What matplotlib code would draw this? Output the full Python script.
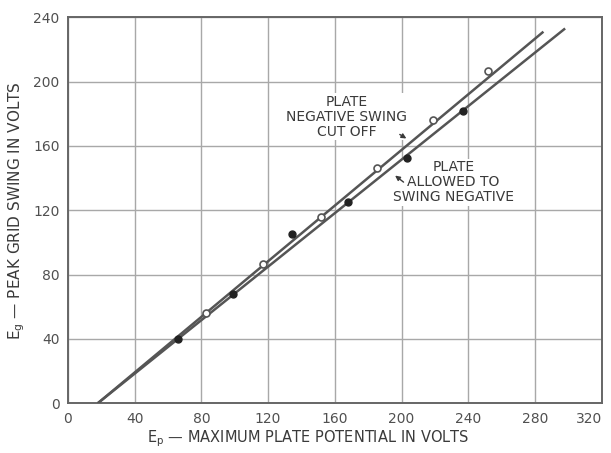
import matplotlib.pyplot as plt

# straight-line fits (end points)
cut_x = [18, 285]
cut_y = [0, 231]
neg_x = [18, 298]
neg_y = [0, 233]

# measured points
open_x = [83, 117, 152, 185, 219, 252]
open_y = [56, 86.5, 116, 146, 176, 206.5]
fill_x = [66, 99, 134.5, 168, 203, 237]
fill_y = [40, 68, 105, 125.3, 152.6, 181.7]

xticks = [0, 40, 80, 120, 160, 200, 240, 280, 320]
yticks = [0, 40, 80, 120, 160, 200, 240]

INK = "#3a3a3a"
GRID = "#a8a8a8"

fig = plt.figure(figsize=(6.11, 4.53), dpi=100)
ax = fig.add_axes([0.111, 0.110, 0.874, 0.852])

ax.plot(cut_x, cut_y, color="#555555", lw=1.8, solid_capstyle="butt", zorder=3)
ax.plot(neg_x, neg_y, color="#555555", lw=1.8, solid_capstyle="butt", zorder=3)
ax.plot(open_x, open_y, "o", ms=5, mfc="white", mec="#555555", mew=1.2, zorder=4)
ax.plot(fill_x, fill_y, "o", ms=5, mfc="#222222", mec="#222222", zorder=4)

ax.set_xlim(0, 320)
ax.set_ylim(0, 240)
ax.set_xticks(xticks)
ax.set_yticks(yticks)
ax.grid(True, color=GRID, lw=1.0)
ax.tick_params(length=0, labelsize=10, labelcolor="#505050", pad=6)
ax.get_xticklabels()[-1].set_ha("right")
for s in ax.spines.values():
    s.set_color("#666666")
    s.set_linewidth(1.4)

ax.set_xlabel(r"$\mathregular{E_p}$ — MAXIMUM PLATE POTENTIAL IN VOLTS",
              fontsize=10.5, color=INK, labelpad=2)
ax.xaxis.label.set_x(0.45)
ax.set_ylabel(r"$\mathregular{E_g}$ — PEAK GRID SWING IN VOLTS",
              fontsize=11, color=INK, labelpad=4)

ax.text(167, 178, "PLATE\nNEGATIVE SWING\nCUT OFF", ha="center", va="center",
        fontsize=10, color=INK, linespacing=1.1, zorder=2.5,
        bbox=dict(fc="white", ec="none", pad=1))
ax.annotate("", xy=(204.3, 163.7), xytext=(197.5, 168),
            arrowprops=dict(arrowstyle="-|>", color=INK, lw=1, mutation_scale=7),
            zorder=5)

ax.text(231, 137.5, "PLATE\nALLOWED TO\nSWING NEGATIVE", ha="center", va="center",
        fontsize=10, color=INK, linespacing=1.1, zorder=2.5,
        bbox=dict(fc="white", ec="none", pad=1))
ax.annotate("", xy=(194.8, 142.6), xytext=(202.5, 136.4),
            arrowprops=dict(arrowstyle="-|>", color=INK, lw=1, mutation_scale=7),
            zorder=5)

fig.savefig("out.png", dpi=100)
